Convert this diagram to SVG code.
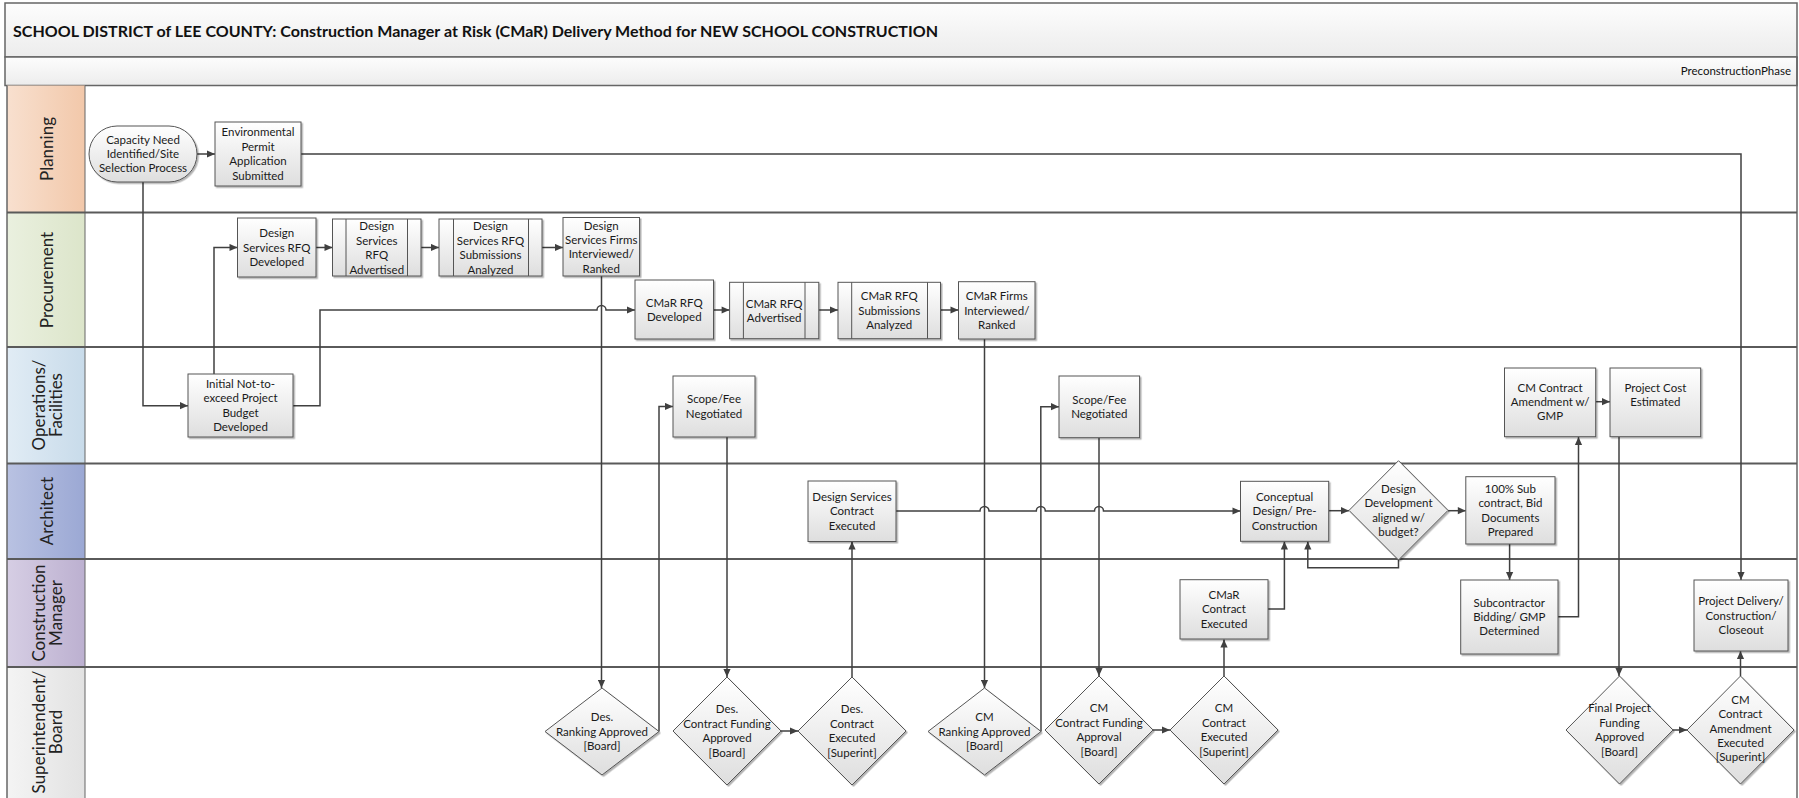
<svg xmlns="http://www.w3.org/2000/svg" width="1799" height="798" viewBox="0 0 1799 798">
  <defs>
    <style>
      .lane{stroke:#5a5a5a;stroke-width:2;fill:none}
      .box{fill:url(#nodeFill);stroke:#555;stroke-width:1;filter:url(#shadow)}
      .sub{stroke:#555;stroke-width:1}
      .t{font-family:Lato,"Liberation Sans",sans-serif;font-size:11.5px;fill:#1a1a1a;text-anchor:middle}
      .lbl{font-family:Lato,"Liberation Sans",sans-serif;font-size:17px;fill:#222;text-anchor:middle;dominant-baseline:central}
      .c{fill:none;stroke:#404040;stroke-width:1.5;marker-end:url(#arrow)}
    </style>
    <linearGradient id="nodeFill" x1="0" y1="0" x2="0" y2="1">
      <stop offset="0" stop-color="#ffffff"/>
      <stop offset="1" stop-color="#dedede"/>
    </linearGradient>
    <linearGradient id="bandFill" x1="0" y1="0" x2="0" y2="1">
      <stop offset="0" stop-color="#fdfdfd"/>
      <stop offset="1" stop-color="#ececec"/>
    </linearGradient>
    <linearGradient id="hPlan" x1="0" y1="0" x2="1" y2="0">
      <stop offset="0" stop-color="#f8e0cf"/><stop offset="1" stop-color="#f2c8aa"/>
    </linearGradient>
    <linearGradient id="hProc" x1="0" y1="0" x2="1" y2="0">
      <stop offset="0" stop-color="#eaf0df"/><stop offset="1" stop-color="#dce5ca"/>
    </linearGradient>
    <linearGradient id="hOps" x1="0" y1="0" x2="1" y2="0">
      <stop offset="0" stop-color="#e1ecf5"/><stop offset="1" stop-color="#c8dbea"/>
    </linearGradient>
    <linearGradient id="hArch" x1="0" y1="0" x2="1" y2="0">
      <stop offset="0" stop-color="#b9c2e2"/><stop offset="1" stop-color="#9ba8d4"/>
    </linearGradient>
    <linearGradient id="hCM" x1="0" y1="0" x2="1" y2="0">
      <stop offset="0" stop-color="#d6cee4"/><stop offset="1" stop-color="#bcb0d0"/>
    </linearGradient>
    <linearGradient id="hSup" x1="0" y1="0" x2="1" y2="0">
      <stop offset="0" stop-color="#f4f4f4"/><stop offset="1" stop-color="#e2e2e2"/>
    </linearGradient>
    <filter id="shadow" x="-10%" y="-10%" width="130%" height="130%">
      <feDropShadow dx="1.5" dy="1.5" stdDeviation="0.7" flood-color="#000" flood-opacity="0.3"/>
    </filter>
    <marker id="arrow" viewBox="0 0 10 10" refX="10" refY="5" markerWidth="9" markerHeight="8" markerUnits="userSpaceOnUse" orient="auto">
      <path d="M0,0.5 L10,5 L0,9.5 z" fill="#404040"/>
    </marker>
  </defs>

  <rect width="1799" height="798" fill="#ffffff"/>

  <!-- title and phase bands -->
  <g id="title">
    <rect x="5" y="3" width="1792" height="54" fill="url(#bandFill)" stroke="#666" stroke-width="1.5"/>
    <text x="13" y="37" font-family="Lato,'Liberation Sans',sans-serif" font-weight="bold" font-size="16" fill="#111" textLength="925" lengthAdjust="spacingAndGlyphs">SCHOOL DISTRICT of LEE COUNTY: Construction Manager at Risk (CMaR) Delivery Method for NEW SCHOOL CONSTRUCTION</text>
  </g>
  <g id="phase">
    <rect x="5" y="57" width="1792" height="28.5" fill="url(#bandFill)" stroke="#666" stroke-width="1.5"/>
    <text x="1791" y="75" font-family="Lato,'Liberation Sans',sans-serif" font-size="11.5" fill="#111" text-anchor="end">PreconstructionPhase</text>
  </g>

  <!-- swimlanes -->
  <g id="lanes">
    <rect x="7" y="85.5" width="78" height="127" fill="url(#hPlan)"/>
    <rect x="7" y="212.5" width="78" height="134.5" fill="url(#hProc)"/>
    <rect x="7" y="347" width="78" height="116.5" fill="url(#hOps)"/>
    <rect x="7" y="463.5" width="78" height="95.5" fill="url(#hArch)"/>
    <rect x="7" y="559" width="78" height="108" fill="url(#hCM)"/>
    <rect x="7" y="667" width="78" height="133" fill="url(#hSup)"/>
    <line x1="85" y1="85.5" x2="85" y2="798" stroke="#666" stroke-width="1"/>
    <line x1="7" y1="85.5" x2="7" y2="798" stroke="#666" stroke-width="1.5"/>
    <line x1="1797" y1="57" x2="1797" y2="798" stroke="#666" stroke-width="1.5"/>
    <line class="lane" x1="7" y1="212.5" x2="1797" y2="212.5"/>
    <line class="lane" x1="7" y1="347" x2="1797" y2="347"/>
    <line class="lane" x1="7" y1="463.5" x2="1797" y2="463.5"/>
    <line class="lane" x1="7" y1="559" x2="1797" y2="559"/>
    <line class="lane" x1="7" y1="667" x2="1797" y2="667"/>
    <text class="lbl" transform="translate(46,149) rotate(-90)">Planning</text>
    <text class="lbl" transform="translate(46,280) rotate(-90)">Procurement</text>
    <text class="lbl" transform="translate(46,405) rotate(-90)"><tspan x="0" y="-8.5">Operations/</tspan><tspan x="0" y="8.5">Facilities</tspan></text>
    <text class="lbl" transform="translate(46,511) rotate(-90)">Architect</text>
    <text class="lbl" transform="translate(46,613) rotate(-90)"><tspan x="0" y="-8.5">Construction</tspan><tspan x="0" y="8.5">Manager</tspan></text>
    <text class="lbl" transform="translate(46,732) rotate(-90)"><tspan x="0" y="-8.5">Superintendent/</tspan><tspan x="0" y="8.5">Board</tspan></text>
  </g>

  <!-- connectors -->
  <g id="connectors">
    <path class="c" d="M197,154 L215,154"/>
    <path class="c" d="M301,154 L1741,154 L1741,580"/>
    <path class="c" d="M143,182 L143,405.7 L188,405.7"/>
    <path class="c" d="M214,374 L214,247.5 L237.5,247.5"/>
    <path class="c" d="M316,247.5 L332.5,247.5"/>
    <path class="c" d="M421,247.5 L439,247.5"/>
    <path class="c" d="M542,247.5 L563,247.5"/>
    <path class="c" d="M293,405.7 L320,405.7 L320,310 L597,310 A4.5,4.5 0 0 1 606,310 L635,310"/>
    <path class="c" d="M713.5,310 L729.6,310"/>
    <path class="c" d="M818.8,310 L838,310"/>
    <path class="c" d="M940.5,310 L958.5,310"/>
    <path class="c" d="M601.5,276 L601.5,688"/>
    <path class="c" d="M659,731.5 L659,406.5 L673,406.5"/>
    <path class="c" d="M727,437 L727,677"/>
    <path class="c" d="M781,731 L798,731"/>
    <path class="c" d="M852,677 L852,541.5"/>
    <path class="c" d="M896,511 L980,511 A4.5,4.5 0 0 1 989,511 L1036.3,511 A4.5,4.5 0 0 1 1045.3,511 L1094.5,511 A4.5,4.5 0 0 1 1103.5,511 L1240.5,511"/>
    <path class="c" d="M984.5,339 L984.5,688"/>
    <path class="c" d="M1041,731.5 L1040.8,406.7 L1059,406.7"/>
    <path class="c" d="M1099,437.7 L1099,676"/>
    <path class="c" d="M1153,730 L1170,730"/>
    <path class="c" d="M1224,676 L1224,639.5"/>
    <path class="c" d="M1268,609 L1284.4,609 L1284.4,541.5"/>
    <path class="c" d="M1328.7,510.7 L1349,510.7"/>
    <path class="c" d="M1448,510.7 L1465.8,510.7"/>
    <path class="c" d="M1398.5,560 L1398.5,567.7 L1307.8,567.7 L1307.8,541.5"/>
    <path class="c" d="M1509.6,544 L1509.6,580"/>
    <path class="c" d="M1558,616.7 L1578.5,616.7 L1578.5,437"/>
    <path class="c" d="M1595.7,401.7 L1610,401.7"/>
    <path class="c" d="M1619,436.7 L1619,676"/>
    <path class="c" d="M1673,730 L1687,730"/>
    <path class="c" d="M1740.5,676 L1740.5,651"/>
  </g>

  <!-- Planning -->
  <g id="capacity-need">
    <rect class="box" x="89" y="126" width="108" height="56" rx="28" ry="28"/>
    <text class="t"><tspan x="143" y="143.6">Capacity Need</tspan><tspan x="143" y="158">Identified/Site</tspan><tspan x="143" y="172.4">Selection Process</tspan></text>
  </g>
  <g id="env-permit">
    <rect class="box" x="215" y="122" width="86" height="64"/>
    <text class="t"><tspan x="258" y="136.4">Environmental</tspan><tspan x="258" y="150.8">Permit</tspan><tspan x="258" y="165.2">Application</tspan><tspan x="258" y="179.6">Submitted</tspan></text>
  </g>

  <!-- Procurement -->
  <g id="ds-rfq-developed">
    <rect class="box" x="237.5" y="218" width="78.5" height="59"/>
    <text class="t"><tspan x="276.75" y="237.1">Design</tspan><tspan x="276.75" y="251.5">Services RFQ</tspan><tspan x="276.75" y="265.9">Developed</tspan></text>
  </g>
  <g id="ds-rfq-advertised">
    <rect class="box" x="332.5" y="219" width="88.5" height="57"/>
    <line class="sub" x1="346" y1="219" x2="346" y2="276"/>
    <line class="sub" x1="407.5" y1="219" x2="407.5" y2="276"/>
    <text class="t"><tspan x="376.75" y="230.3">Design</tspan><tspan x="376.75" y="244.7">Services</tspan><tspan x="376.75" y="259.1">RFQ</tspan><tspan x="376.75" y="273.5">Advertised</tspan></text>
  </g>
  <g id="ds-rfq-analyzed">
    <rect class="box" x="439" y="219" width="103" height="57"/>
    <line class="sub" x1="453.5" y1="219" x2="453.5" y2="276"/>
    <line class="sub" x1="528.5" y1="219" x2="528.5" y2="276"/>
    <text class="t"><tspan x="490.5" y="230.3">Design</tspan><tspan x="490.5" y="244.7">Services RFQ</tspan><tspan x="490.5" y="259.1">Submissions</tspan><tspan x="490.5" y="273.5">Analyzed</tspan></text>
  </g>
  <g id="ds-firms-ranked">
    <rect class="box" x="563" y="217.5" width="76.5" height="58.5"/>
    <text class="t"><tspan x="601.25" y="229.5">Design</tspan><tspan x="601.25" y="243.9">Services Firms</tspan><tspan x="601.25" y="258.3">Interviewed/</tspan><tspan x="601.25" y="272.7">Ranked</tspan></text>
  </g>
  <g id="cmar-rfq-developed">
    <rect class="box" x="635" y="280" width="78.5" height="59"/>
    <text class="t"><tspan x="674.25" y="306.5">CMaR RFQ</tspan><tspan x="674.25" y="320.9">Developed</tspan></text>
  </g>
  <g id="cmar-rfq-advertised">
    <rect class="box" x="729.6" y="282.3" width="89.2" height="56.4"/>
    <line class="sub" x1="743.4" y1="282.3" x2="743.4" y2="338.7"/>
    <line class="sub" x1="805" y1="282.3" x2="805" y2="338.7"/>
    <text class="t"><tspan x="774.2" y="307.5">CMaR RFQ</tspan><tspan x="774.2" y="321.9">Advertised</tspan></text>
  </g>
  <g id="cmar-rfq-analyzed">
    <rect class="box" x="838" y="282.3" width="102.5" height="56.4"/>
    <line class="sub" x1="851.7" y1="282.3" x2="851.7" y2="338.7"/>
    <line class="sub" x1="927.5" y1="282.3" x2="927.5" y2="338.7"/>
    <text class="t"><tspan x="889.25" y="300.3">CMaR RFQ</tspan><tspan x="889.25" y="314.7">Submissions</tspan><tspan x="889.25" y="329.1">Analyzed</tspan></text>
  </g>
  <g id="cmar-firms-ranked">
    <rect class="box" x="958.5" y="281.7" width="76.5" height="57.3"/>
    <text class="t"><tspan x="996.75" y="300.1">CMaR Firms</tspan><tspan x="996.75" y="314.5">Interviewed/</tspan><tspan x="996.75" y="328.9">Ranked</tspan></text>
  </g>

  <!-- Operations/Facilities -->
  <g id="initial-budget">
    <rect class="box" x="188" y="374" width="105" height="63"/>
    <text class="t"><tspan x="240.5" y="387.9">Initial Not-to-</tspan><tspan x="240.5" y="402.3">exceed Project</tspan><tspan x="240.5" y="416.7">Budget</tspan><tspan x="240.5" y="431.1">Developed</tspan></text>
  </g>
  <g id="scope-fee-design">
    <rect class="box" x="673" y="376" width="82" height="61"/>
    <text class="t"><tspan x="714" y="403.3">Scope/Fee</tspan><tspan x="714" y="417.7">Negotiated</tspan></text>
  </g>
  <g id="scope-fee-cm">
    <rect class="box" x="1059" y="376" width="80.6" height="61.7"/>
    <text class="t"><tspan x="1099.3" y="403.6">Scope/Fee</tspan><tspan x="1099.3" y="418">Negotiated</tspan></text>
  </g>
  <g id="cm-amendment-gmp">
    <rect class="box" x="1504.5" y="368" width="91.2" height="68.7"/>
    <text class="t"><tspan x="1550.1" y="391.5">CM Contract</tspan><tspan x="1550.1" y="405.9">Amendment w/</tspan><tspan x="1550.1" y="420.3">GMP</tspan></text>
  </g>
  <g id="project-cost">
    <rect class="box" x="1610" y="368" width="90.7" height="68.7"/>
    <text class="t"><tspan x="1655.35" y="391.7">Project Cost</tspan><tspan x="1655.35" y="406.1">Estimated</tspan></text>
  </g>

  <!-- Architect -->
  <g id="ds-contract-executed">
    <rect class="box" x="808" y="481" width="88" height="60.5"/>
    <text class="t"><tspan x="852" y="500.85">Design Services</tspan><tspan x="852" y="515.25">Contract</tspan><tspan x="852" y="529.65">Executed</tspan></text>
  </g>
  <g id="conceptual-design">
    <rect class="box" x="1240.5" y="481.3" width="88.2" height="60"/>
    <text class="t"><tspan x="1284.6" y="500.9">Conceptual</tspan><tspan x="1284.6" y="515.3">Design/ Pre-</tspan><tspan x="1284.6" y="529.7">Construction</tspan></text>
  </g>
  <g id="dd-budget-check">
    <polygon class="box" points="1398.5,460.7 1448,510.4 1398.5,560 1349,510.4"/>
    <text class="t"><tspan x="1398.5" y="493">Design</tspan><tspan x="1398.5" y="507.4">Development</tspan><tspan x="1398.5" y="521.8">aligned w/</tspan><tspan x="1398.5" y="536.2">budget?</tspan></text>
  </g>
  <g id="bid-documents">
    <rect class="box" x="1465.8" y="476.7" width="89.2" height="67.3"/>
    <text class="t"><tspan x="1510.4" y="492.75">100% Sub</tspan><tspan x="1510.4" y="507.15">contract, Bid</tspan><tspan x="1510.4" y="521.55">Documents</tspan><tspan x="1510.4" y="535.95">Prepared</tspan></text>
  </g>

  <!-- Construction Manager -->
  <g id="cmar-contract-executed">
    <rect class="box" x="1180" y="579.7" width="88" height="59.3"/>
    <text class="t"><tspan x="1224" y="598.95">CMaR</tspan><tspan x="1224" y="613.35">Contract</tspan><tspan x="1224" y="627.75">Executed</tspan></text>
  </g>
  <g id="subcontractor-bidding">
    <rect class="box" x="1460.7" y="580" width="97.3" height="74"/>
    <text class="t"><tspan x="1509.35" y="606.6">Subcontractor</tspan><tspan x="1509.35" y="621">Bidding/ GMP</tspan><tspan x="1509.35" y="635.4">Determined</tspan></text>
  </g>
  <g id="project-delivery">
    <rect class="box" x="1694" y="580" width="94" height="71"/>
    <text class="t"><tspan x="1741" y="605.1">Project Delivery/</tspan><tspan x="1741" y="619.5">Construction/</tspan><tspan x="1741" y="633.9">Closeout</tspan></text>
  </g>

  <!-- Superintendent/Board -->
  <g id="des-ranking-approved">
    <polygon class="box" points="602,688 659,731.5 602,775 545,731.5"/>
    <text class="t"><tspan x="602" y="721.1">Des.</tspan><tspan x="602" y="735.5">Ranking Approved</tspan><tspan x="602" y="749.9">[Board]</tspan></text>
  </g>
  <g id="des-funding-approved">
    <polygon class="box" points="727,677 781,731 727,785 673,731"/>
    <text class="t"><tspan x="727" y="713.4">Des.</tspan><tspan x="727" y="727.8">Contract Funding</tspan><tspan x="727" y="742.2">Approved</tspan><tspan x="727" y="756.6">[Board]</tspan></text>
  </g>
  <g id="des-contract-executed">
    <polygon class="box" points="852,677 906,731 852,785 798,731"/>
    <text class="t"><tspan x="852" y="713.4">Des.</tspan><tspan x="852" y="727.8">Contract</tspan><tspan x="852" y="742.2">Executed</tspan><tspan x="852" y="756.6">[Superint]</tspan></text>
  </g>
  <g id="cm-ranking-approved">
    <polygon class="box" points="984.5,688 1041,731.5 984.5,775 928,731.5"/>
    <text class="t"><tspan x="984.5" y="721.1">CM</tspan><tspan x="984.5" y="735.5">Ranking Approved</tspan><tspan x="984.5" y="749.9">[Board]</tspan></text>
  </g>
  <g id="cm-funding-approval">
    <polygon class="box" points="1099,676 1153,730 1099,784 1045,730"/>
    <text class="t"><tspan x="1099" y="712.4">CM</tspan><tspan x="1099" y="726.8">Contract Funding</tspan><tspan x="1099" y="741.2">Approval</tspan><tspan x="1099" y="755.6">[Board]</tspan></text>
  </g>
  <g id="cm-contract-executed">
    <polygon class="box" points="1224,676 1278,730 1224,784 1170,730"/>
    <text class="t"><tspan x="1224" y="712.4">CM</tspan><tspan x="1224" y="726.8">Contract</tspan><tspan x="1224" y="741.2">Executed</tspan><tspan x="1224" y="755.6">[Superint]</tspan></text>
  </g>
  <g id="final-funding-approved">
    <polygon class="box" points="1619.5,676 1673,730 1619.5,784 1566,730"/>
    <text class="t"><tspan x="1619.5" y="712.4">Final Project</tspan><tspan x="1619.5" y="726.8">Funding</tspan><tspan x="1619.5" y="741.2">Approved</tspan><tspan x="1619.5" y="755.6">[Board]</tspan></text>
  </g>
  <g id="cm-amendment-executed">
    <polygon class="box" points="1740.5,676 1794,730 1740.5,784 1687,730"/>
    <text class="t"><tspan x="1740.5" y="703.7">CM</tspan><tspan x="1740.5" y="718.1">Contract</tspan><tspan x="1740.5" y="732.5">Amendment</tspan><tspan x="1740.5" y="746.9">Executed</tspan><tspan x="1740.5" y="761.3">[Superint]</tspan></text>
  </g>
</svg>
